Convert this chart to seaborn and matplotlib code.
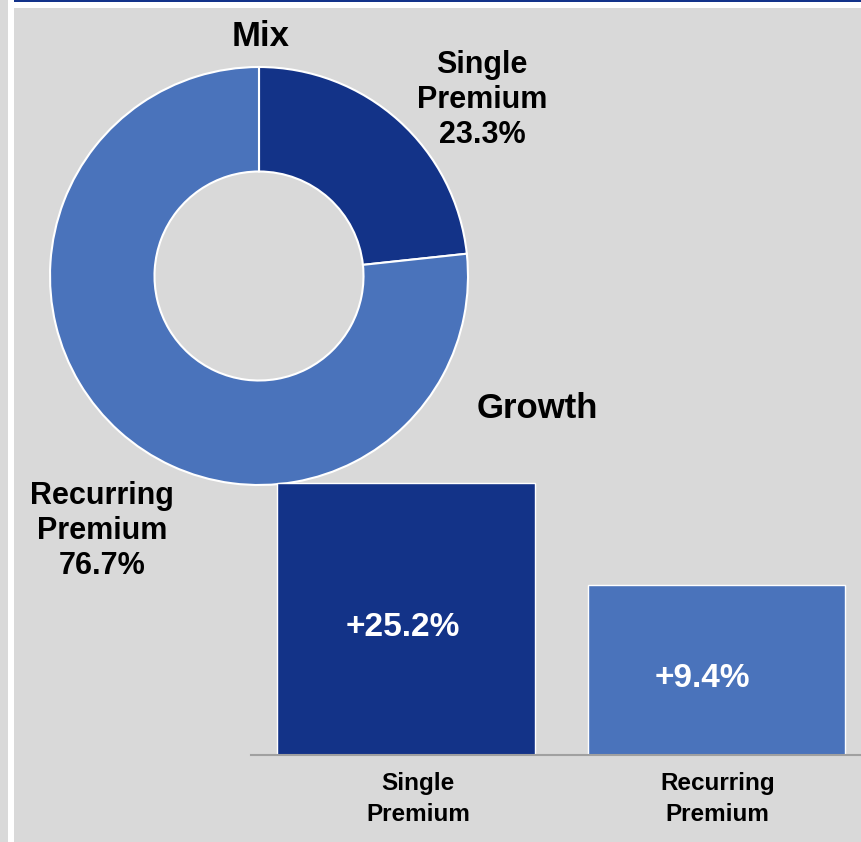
import matplotlib
matplotlib.use("Agg")
import matplotlib.pyplot as plt
import matplotlib.transforms as mtransforms
import seaborn as sns
import pandas as pd
from matplotlib.patches import Rectangle

# ---- data ----
mix_labels = ["Single\nPremium", "Recurring\nPremium"]
mix_share = [23.3, 76.7]
growth_categories = ["Single\nPremium", "Recurring\nPremium"]
growth_values = [25.2, 9.4]
series_colors = ["#133388", "#4a73bb"]

sns.set_theme(style="white")
plt.rcParams['font.family'] = ['Liberation Sans', 'DejaVu Sans']

W, H = 862, 842
fig = plt.figure(figsize=(W / 100, H / 100), dpi=100)
bg = "#d9d9d9"
fig.patch.set_facecolor(bg)


def px_rect(x0, y0, x1, y1):
    return [x0 / W, 1 - y1 / H, (x1 - x0) / W, (y1 - y0) / H]


def add_px_box(x0, y0, x1, y1, color):
    fig.add_artist(Rectangle((x0 / W, 1 - y1 / H), (x1 - x0) / W, (y1 - y0) / H,
                             transform=fig.transFigure, facecolor=color,
                             edgecolor="none", zorder=0))


# decorative frame
add_px_box(14, 0, W, 2, "#13338a")
add_px_box(14, 2, W, 8, "white")
add_px_box(8, 0, 14, H, "white")

# ---- donut ----
cx, cy, r = 259, 276, 209
ax_pie = fig.add_axes(px_rect(cx - r, cy - r, cx + r, cy + r))
ax_pie.pie(mix_share, colors=series_colors, startangle=90, counterclock=False,
           radius=1, wedgeprops=dict(width=0.5, edgecolor="white", linewidth=1.5))
ax_pie.set_xlim(-1, 1)
ax_pie.set_ylim(-1, 1)
ax_pie.set_axis_off()


def ftext(x, y, s, size, **kw):
    fig.text(x / W, 1 - y / H, s, ha="center", va="center", fontsize=size,
             fontweight="bold", color=kw.pop("color", "black"), **kw)


ftext(261, 36, "Mix", 25)
ftext(482, 100, f"{mix_labels[0]}\n{mix_share[0]}%", 22)
ftext(102, 531, f"{mix_labels[1]}\n{mix_share[1]}%", 22)
ftext(537, 408, "Growth", 25)

# ---- bars ----
ax_bar = fig.add_axes(px_rect(251, 470, 862, 755))
df = pd.DataFrame({"category": growth_categories, "growth": growth_values})
sns.barplot(data=df, x="category", y="growth", hue="category",
            palette=series_colors, width=0.83, edgecolor="white", linewidth=1,
            ax=ax_bar, legend=False, saturation=1)
baseline = -16.9
for p, v in zip(ax_bar.patches, growth_values):
    p.set_y(baseline)
    p.set_height(v - baseline)
ax_bar.set_ylim(baseline, 27.2)
ax_bar.set_xlim(-0.5, 1.47)
ax_bar.patch.set_alpha(0)
for s in ["left", "right", "top"]:
    ax_bar.spines[s].set_visible(False)
ax_bar.spines["bottom"].set_color("#a0a0a0")
ax_bar.spines["bottom"].set_linewidth(1.5)
ax_bar.set_yticks([])
ax_bar.set_xlabel("")
ax_bar.set_ylabel("")
ax_bar.tick_params(axis="x", length=0, pad=12, labelsize=17.5)
tick_dx_px = [12, 1]
for t, dx in zip(ax_bar.get_xticklabels(), tick_dx_px):
    t.set_fontweight("bold")
    t.set_color("black")
    t.set_linespacing(1.45)
    t.set_transform(t.get_transform() + mtransforms.Affine2D().translate(dx, 0))

label_dx = [-0.011, -0.044]
for i, v in enumerate(growth_values):
    ax_bar.annotate(f"+{v}%", xy=(i + label_dx[i], (v + baseline) / 2),
                    xytext=(0, -6), textcoords="offset points",
                    ha="center", va="center", color="white",
                    fontsize=24, fontweight="bold")

fig.savefig("out.png", dpi=100, facecolor=bg)
